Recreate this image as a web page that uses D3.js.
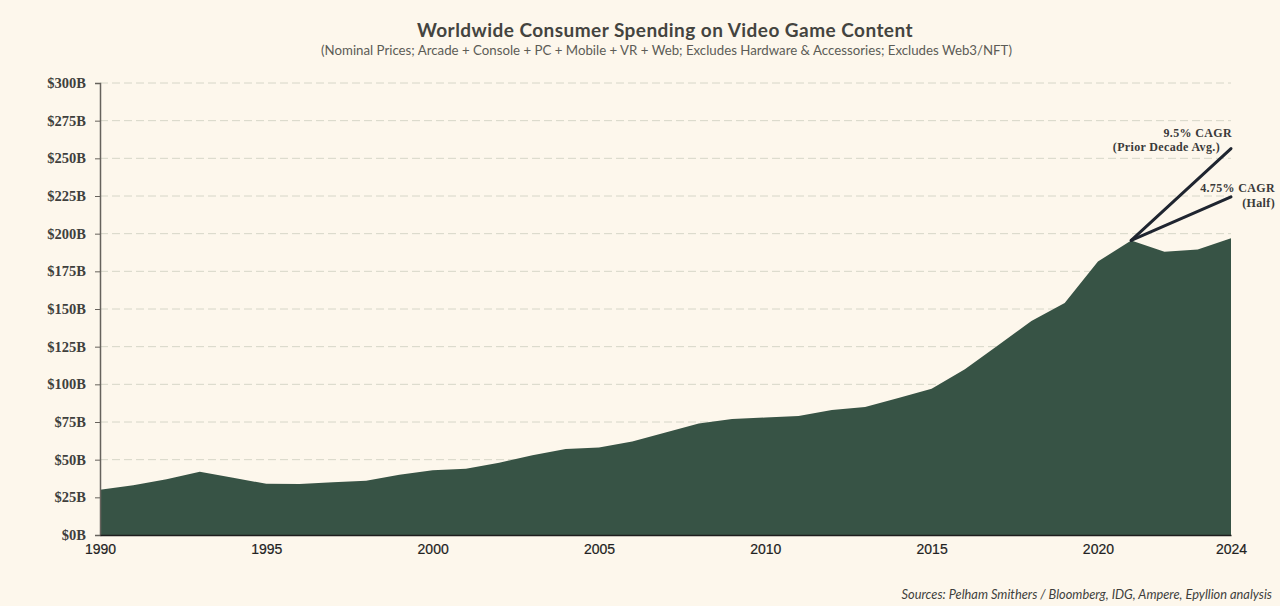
<!DOCTYPE html>
<html><head><meta charset="utf-8">
<script src="https://cdnjs.cloudflare.com/ajax/libs/d3/7.8.5/d3.min.js"></script>
<style>
html,body{margin:0;padding:0;background:#fdf7ec;overflow:hidden}
svg{display:block}
.yt text{font-family:"Liberation Serif",serif;font-weight:700;font-size:14.5px;fill:#3f3f3d}
.xt text{font-family:"Liberation Sans",sans-serif;font-size:14px;fill:#222;stroke:#222;stroke-width:.2px}
</style></head><body>
<svg id="c" width="1280" height="606"></svg>
<script>
const years=[1990,1991,1992,1993,1994,1995,1996,1997,1998,1999,2000,2001,2002,2003,2004,2005,2006,2007,2008,2009,2010,2011,2012,2013,2014,2015,2016,2017,2018,2019,2020,2021,2022,2023,2024];
const spending=[30,33,37,42,38,34,33.8,35,36,40,43,44,48,53,57,58,62,68,74,77,78,79,83,85,91,97,110,126,142,154,181.5,195.5,188,189.5,197];
const yTicks=[0,25,50,75,100,125,150,175,200,225,250,275,300];
const xTicks=[1990,1995,2000,2005,2010,2015,2020,2024];
const cagrYears=[2021,2024];
const cagrHigh=[195.5,256.5];
const cagrHalf=[195.5,224.5];
const titleText="Worldwide Consumer Spending on Video Game Content";
const subtitleText="(Nominal Prices; Arcade + Console + PC + Mobile + VR + Web; Excludes Hardware & Accessories; Excludes Web3/NFT)";
const sourceText="Sources: Pelham Smithers / Bloomberg, IDG, Ampere, Epyllion analysis";

const svg=d3.select("#c");
const x=d3.scaleLinear().domain([1990,2024]).range([100,1231]);
const y=d3.scaleLinear().domain([0,300]).range([535,83]);

svg.append("g").selectAll("line").data(yTicks.filter(d=>d>0)).join("line")
  .attr("x1",100).attr("x2",1231).attr("y1",d=>y(d)).attr("y2",d=>y(d))
  .attr("stroke","#d6d6c8").attr("stroke-width",1).attr("stroke-dasharray","8 4");

svg.append("path").datum(years.map((d,i)=>[d,spending[i]]))
  .attr("fill","#375345")
  .attr("d",d3.area().x(d=>x(d[0])).y0(y(0)).y1(d=>y(d[1])));

const yAxis=svg.append("g").attr("class","yt").attr("transform","translate(100,0)")
  .call(d3.axisLeft(y).tickValues(yTicks).tickFormat(d=>"$"+d+"B").tickSize(5).tickPadding(9));
yAxis.select(".domain").attr("stroke","#66625c").attr("stroke-width",1.5);
yAxis.selectAll(".tick line").attr("stroke","#66625c");

const xAxis=svg.append("g").attr("class","xt").attr("transform","translate(0,535)")
  .call(d3.axisBottom(x).tickValues(xTicks).tickFormat(d3.format("d")).tickSize(0).tickPadding(9));
xAxis.select(".domain").attr("stroke","#1d1d1d").attr("stroke-width",1.5);

const ln=d3.line().x((d,i)=>x(cagrYears[i])).y(d=>y(d));
[cagrHigh,cagrHalf].forEach(s=>svg.append("path").datum(s).attr("d",ln)
  .attr("fill","none").attr("stroke","#1f2530").attr("stroke-width",3).attr("stroke-linecap","round"));

const anno=(t,xx,yy)=>svg.append("text").attr("x",xx).attr("y",yy).attr("text-anchor","end")
  .attr("font-family","Liberation Serif, serif").attr("font-weight",700).attr("font-size",12)
  .attr("letter-spacing",0.35).attr("fill","#3a3a3a").text(t);
anno("9.5% CAGR",1232,137);anno("(Prior Decade Avg.)",1220,151);
anno("4.75% CAGR",1275,192);anno("(Half)",1275,207);

svg.append("text").attr("x",665).attr("y",37).attr("text-anchor","middle")
  .attr("font-family","Lato, sans-serif").attr("font-weight",700).attr("font-size",19)
  .attr("letter-spacing",0.45).attr("fill","#44443f").text(titleText);
svg.append("text").attr("x",666.5).attr("y",55).attr("text-anchor","middle")
  .attr("font-family","Lato, sans-serif").attr("font-size",13.25).attr("fill","#5c5c56").text(subtitleText);
svg.append("text").attr("x",1272).attr("y",599).attr("text-anchor","end")
  .attr("font-family","Lato, sans-serif").attr("font-style","italic").attr("font-size",12.8)
  .attr("fill","#3f3f3c").text(sourceText);
</script></body></html>
